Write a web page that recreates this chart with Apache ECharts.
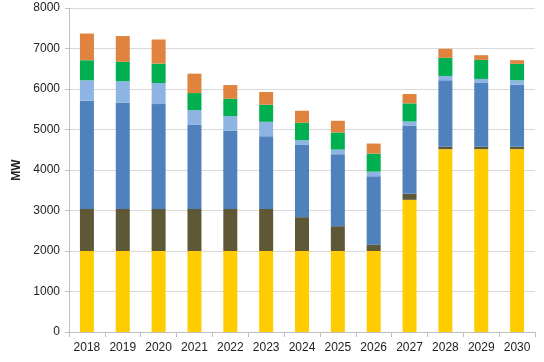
<!DOCTYPE html>
<html>
<head>
<meta charset="utf-8">
<script src="https://cdn.jsdelivr.net/npm/echarts@6/dist/echarts.min.js"></script>
<style>html,body{margin:0;padding:0;background:#fff}#c{width:544px;height:362px}</style>
</head>
<body>
<div id="c"></div>
<script>
const categories = ['2018','2019','2020','2021','2022','2023','2024','2025','2026','2027','2028','2029','2030'];
const yellow   = [2000,2000,2000,2000,2000,2000,2000,2000,2000,3264,4515,4515,4515];
const brown    = [1040,1040,1040,1040,1040,1040,835,612,157,149,60,60,60];
const blue     = [2670,2620,2587,2075,1934,1795,1793,1776,1686,1678,1640,1574,1532];
const lightBlue= [505,530,521,363,356,355,108,116,116,107,107,99,108];
const green    = [495,480,479,422,429,422,429,422,446,447,447,471,405];
const orange   = [660,637,595,479,339,314,298,289,248,231,223,116,91];
const yTicks = [0,1000,2000,3000,4000,5000,6000,7000,8000];

const seriesDefs = [
  ['yellow', yellow, '#FFCC00'],
  ['brown', brown, '#5F5837'],
  ['blue', blue, '#4F81BD'],
  ['lightBlue', lightBlue, '#8DB4E2'],
  ['green', green, '#00B050'],
  ['orange', orange, '#E0833F']
];

const chart = echarts.init(document.getElementById('c'));
chart.setOption({
  animation: false,
  grid: {left: 69, right: 9, top: 8, bottom: 30},
  xAxis: {
    type: 'category',
    data: categories,
    axisLine: {lineStyle: {color: '#BFBFBF'}},
    axisTick: {show: true, alignWithLabel: false, length: 5, lineStyle: {color: '#BFBFBF'}},
    axisLabel: {color: '#222', fontSize: 12, fontFamily: 'Liberation Sans, Arial', margin: 10}
  },
  yAxis: {
    type: 'value',
    min: yTicks[0], max: yTicks[yTicks.length-1], interval: 1000,
    name: 'MW',
    nameLocation: 'middle',
    nameGap: 38,
    nameTextStyle: {fontWeight: 'bold', fontSize: 12, color: '#222', fontFamily: 'Liberation Sans, Arial'},
    axisLine: {show: true, lineStyle: {color: '#BFBFBF'}},
    axisTick: {show: true, length: 4, lineStyle: {color: '#BFBFBF'}},
    axisLabel: {color: '#222', fontSize: 12, fontFamily: 'Liberation Sans, Arial', margin: 9,
      formatter: v => String(v)},
    splitLine: {lineStyle: {color: '#D9D9D9'}}
  },
  series: seriesDefs.map(([name, data, color]) => ({
    name, type: 'bar', stack: 'total', data, barWidth: 14,
    itemStyle: {color}
  }))
});
</script>
</body>
</html>
